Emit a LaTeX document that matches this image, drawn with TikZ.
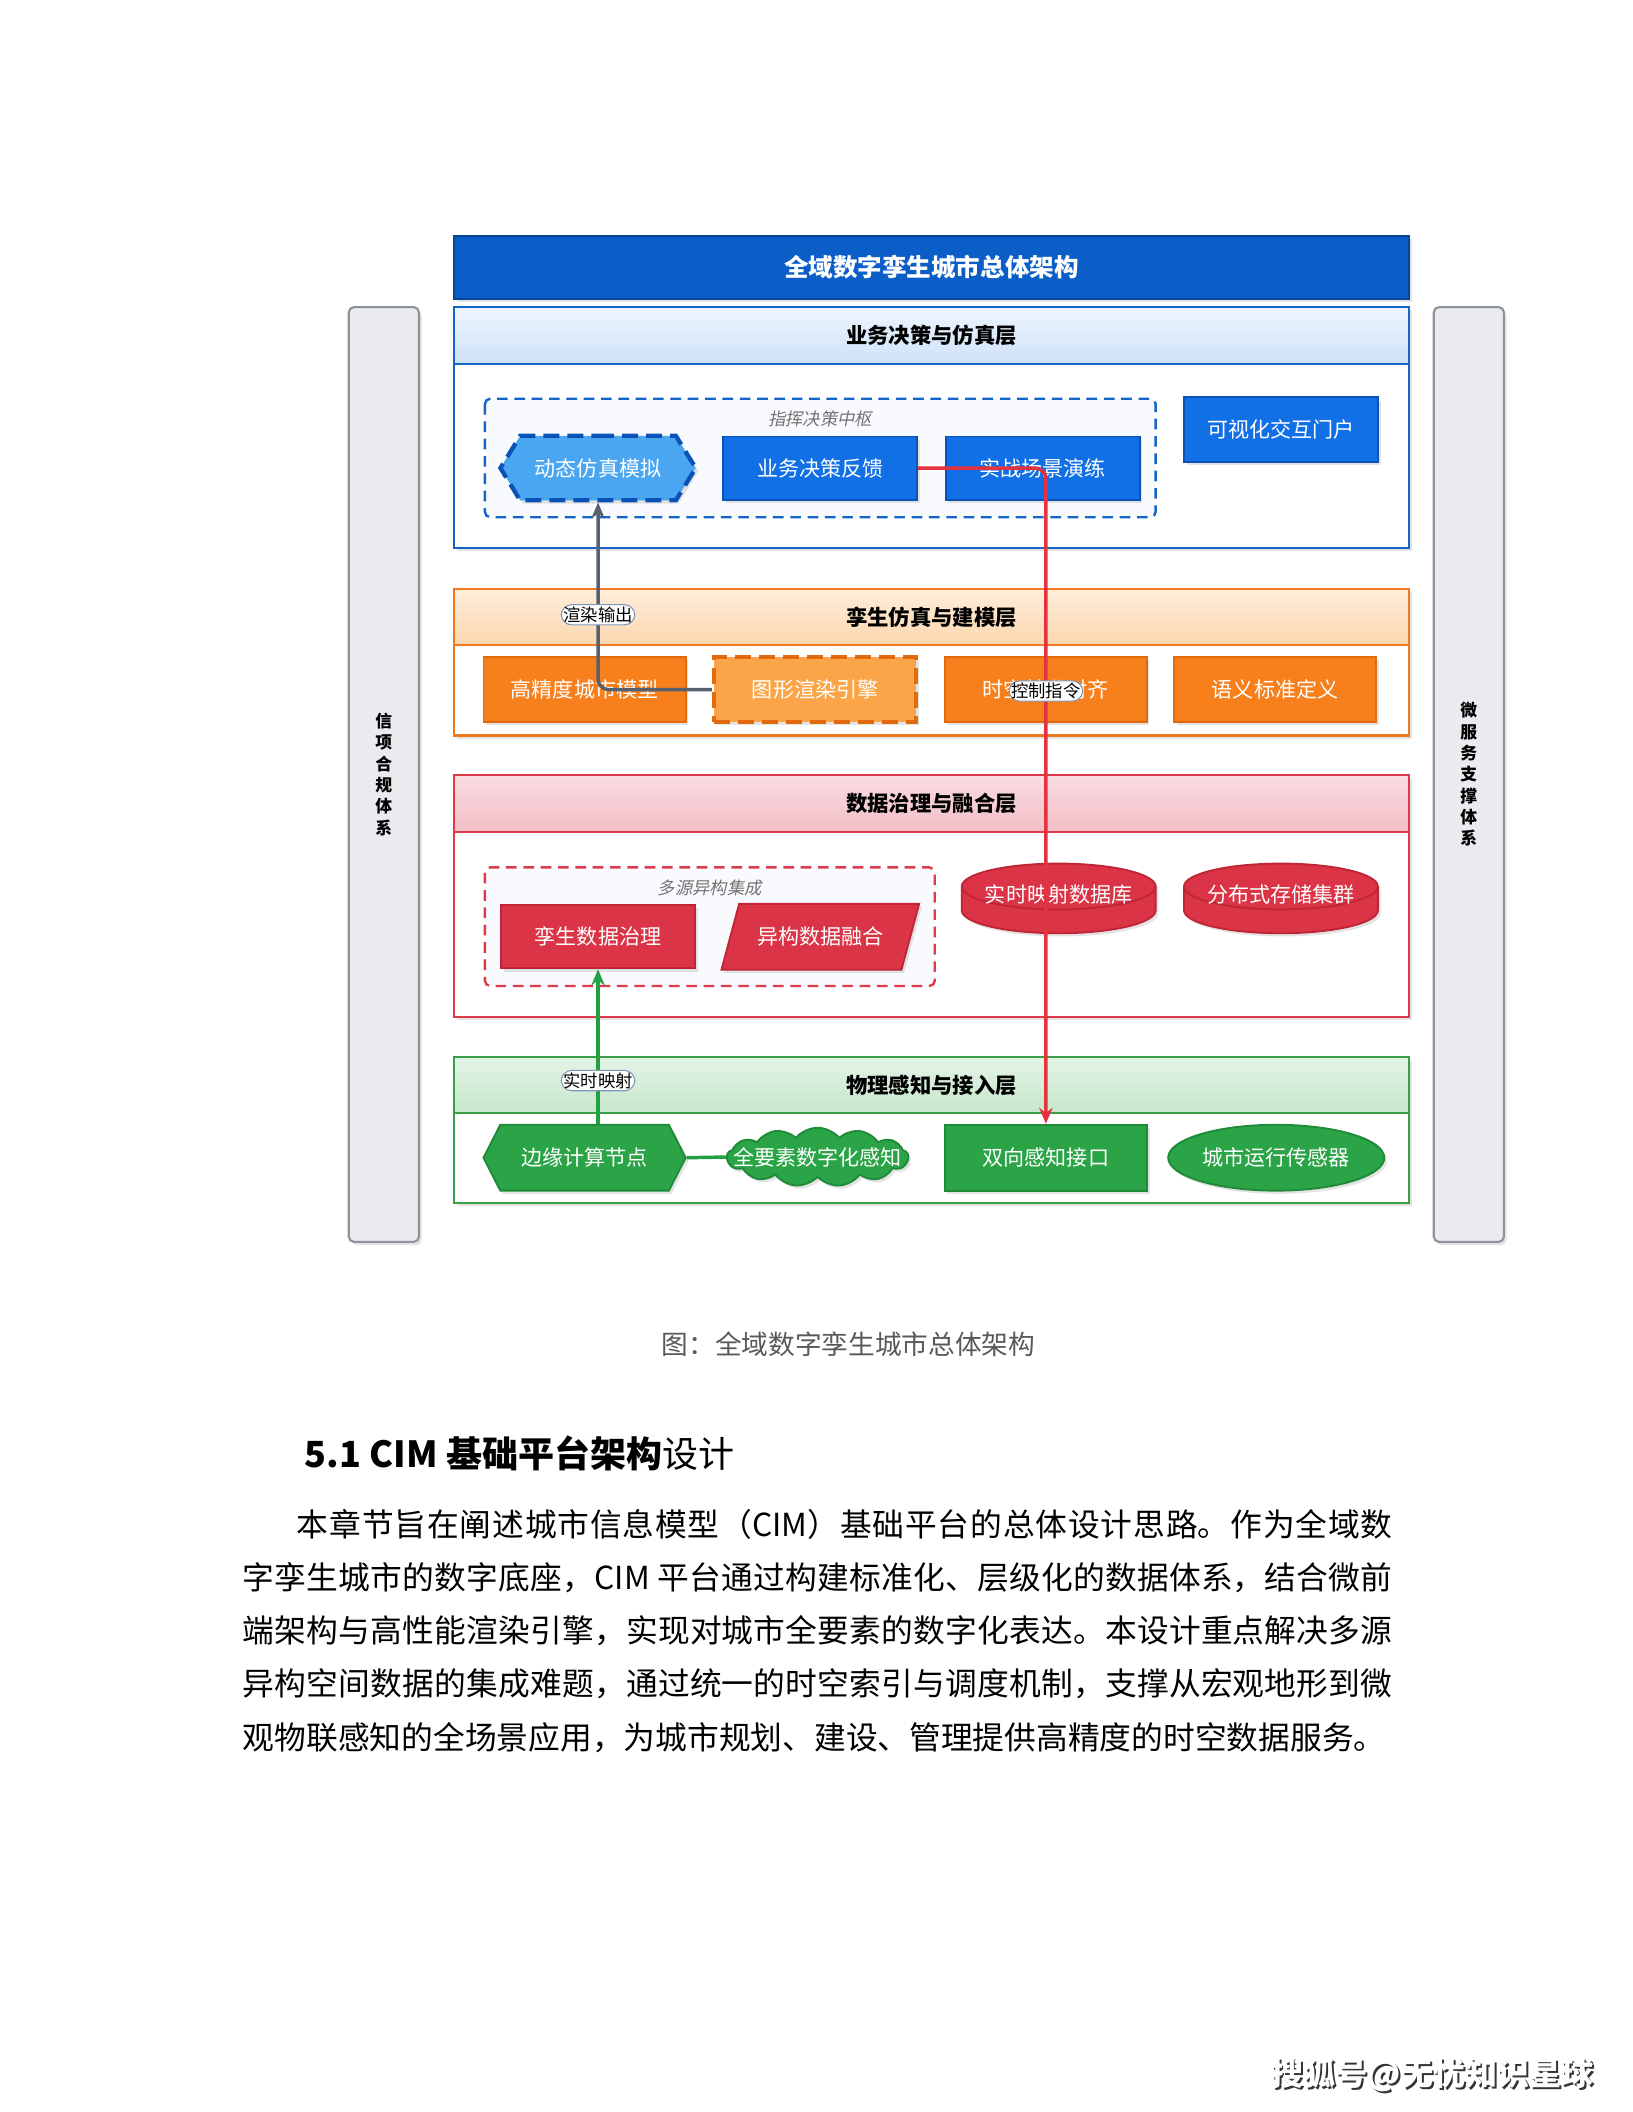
\documentclass[tikz,border=0pt]{standalone}
\usepackage{fontspec}
\setmainfont{Noto Sans CJK SC}
\newfontfamily\slantcjk{Noto Sans CJK SC}[FakeSlant=0.2]
\usetikzlibrary{shapes.geometric,shapes.symbols,arrows.meta,positioning,shadows}
\XeTeXlinebreaklocale "zh"
\XeTeXlinebreakskip=0pt plus 1pt

\definecolor{titleblue}{HTML}{0B5EC7}
\definecolor{l1line}{HTML}{1565C8}
\definecolor{l1top}{HTML}{EEF5FE}
\definecolor{l1bot}{HTML}{CFE1F8}
\definecolor{l2line}{HTML}{F0781E}
\definecolor{l2top}{HTML}{FFEEDB}
\definecolor{l2bot}{HTML}{FBD6AE}
\definecolor{l3line}{HTML}{DD3A4A}
\definecolor{l3top}{HTML}{FADDE2}
\definecolor{l3bot}{HTML}{F2BEC6}
\definecolor{l4line}{HTML}{3AA048}
\definecolor{l4top}{HTML}{E4F4E6}
\definecolor{l4bot}{HTML}{C6E7CB}
\definecolor{nblue}{HTML}{1170E6}
\definecolor{nblueline}{HTML}{0B52B8}
\definecolor{nlblue}{HTML}{4AA6F0}
\definecolor{norange}{HTML}{F7801C}
\definecolor{norangeline}{HTML}{E2690E}
\definecolor{nlorange}{HTML}{FBA448}
\definecolor{nred}{HTML}{DA3446}
\definecolor{nredline}{HTML}{C02535}
\definecolor{ngreen}{HTML}{2AA446}
\definecolor{ngreenline}{HTML}{1F8A37}
\definecolor{groupbg}{HTML}{F8FAFD}
\definecolor{sidefill}{HTML}{E9EBEE}
\definecolor{sidegray}{HTML}{8C939B}
\definecolor{linegray}{HTML}{56606E}
\definecolor{linered}{HTML}{E5323F}
\definecolor{linegreen}{HTML}{22A043}
\definecolor{lblframe}{HTML}{8096B8}

\begin{document}
\begin{tikzpicture}[x=0.505pt,y=-0.505pt,node distance=10pt,
  every node/.style={font=\fontsize{7.9}{9}\selectfont,inner sep=1pt},
  sh/.style={drop shadow={opacity=0.22,shadow xshift=1pt,shadow yshift=-1.2pt}},
  box/.style={draw,sh,text=white,line width=0.7pt,minimum width=72.7pt,minimum height=23.7pt},
  wbox/.style={box,minimum width=75.8pt,minimum height=24.4pt},
  bluebox/.style={box,fill=nblue,draw=nblueline},
  orangebox/.style={wbox,fill=norange,draw=norangeline},
  redbox/.style={box,fill=nred,draw=nredline},
  greenbox/.style={wbox,fill=ngreen,draw=ngreenline},
  hexa/.style={signal,signal to=west and east},
  drum/.style={redbox,cylinder,shape border rotate=90,aspect=0.3,anchor=shape center,
    minimum width=72.7pt,minimum height=14pt},
  layerbody/.style={fill=white,line width=0.8pt,sh},
  layerhead/.style={draw,line width=0.8pt,minimum width=358pt,minimum height=21.2pt,font=\fontsize{8}{9}\selectfont\bfseries},
  group/.style={dash pattern=on 4pt off 2.5pt,line width=0.9pt,fill=groupbg,rounded corners=2pt},
  grouplabel/.style={text=black!55,font=\fontsize{6.5}{8}\selectfont\slantcjk},
  sidebar/.style={draw=sidegray,fill=sidefill,line width=0.8pt,rounded corners=2pt,sh,
    minimum width=26.3pt,minimum height=350.5pt,align=center,font=\fontsize{6.3}{8}\selectfont\bfseries},
  lbl/.style={draw=lblframe,fill=white,text=black,inner sep=0.8pt,line width=0.4pt,font=\fontsize{6.5}{7}\selectfont},
  conn/.style={line width=1.3pt,rounded corners=4pt,-{Stealth[length=6pt,width=5pt]}}]
\useasboundingbox (0,0) rectangle (1212,1568);
\fill[white] (0,0) rectangle (1212,1568);

% side systems
\node[sidebar] (compl) at (285,575) {信\\项\\合\\规\\体\\系};
\node[sidebar] (micro) at (1090.5,575) {微\\服\\务\\支\\撑\\体\\系};

% title
\node[draw=titleblue!75!black,fill=titleblue,sh,line width=0.8pt,minimum width=358pt,minimum height=23.7pt,
  text=white,font=\fontsize{9.2}{10}\selectfont\bfseries] (top) at (691.5,198.5) {全域数字孪生城市总体架构};

% layer 1
\draw[layerbody,draw=l1line] (337,228) rectangle (1046,407);
\node[layerhead,draw=l1line,top color=l1top,bottom color=l1bot] (h1) at (691.5,249) {业务决策与仿真层};
\draw[group,draw=l1line] (360,296) rectangle (858,384);
\node[grouplabel] (g1) at (609,311) {指挥决策中枢};
\node[box,hexa,signal pointer angle=117,fill=nlblue,draw=nblueline,line width=1.6pt,
  dash pattern=on 6pt off 3pt,minimum width=73.2pt,minimum height=24.2pt] (dyn) at (444,347.5) {动态仿真模拟};
\node[bluebox] (fb) at (609,347.5) {业务决策反馈};
\node[bluebox,right=of fb] (drill) {实战场景演练};
\node[bluebox,minimum height=24.2pt] (portal) at (951,319) {可视化交互门户};

% layer 2
\draw[layerbody,draw=l2line] (337,437) rectangle (1046,546);
\node[layerhead,draw=l2line,top color=l2top,bottom color=l2bot] (h2) at (691.5,458) {孪生仿真与建模层};
\node[orangebox] (gao) at (434,512) {高精度城市模型};
\node[orangebox,right=9.5pt of gao,fill=nlorange,line width=1.6pt,dash pattern=on 6pt off 3pt] (gfx) {图形渲染引擎};
\node[orangebox,right=9.5pt of gfx] (stb) {时空基准对齐};
\node[orangebox,right=9.5pt of stb] (sem) {语义标准定义};

% layer 3
\draw[layerbody,draw=l3line] (337,576) rectangle (1046,755);
\node[layerhead,draw=l3line,top color=l3top,bottom color=l3bot] (h3) at (691.5,596.5) {数据治理与融合层};
\draw[group,draw=l3line] (360,644) rectangle (694,732);
\node[grouplabel] (g3) at (527,659) {多源异构集成};
\node[redbox] (twin) at (444,695.5) {孪生数据治理};
\node[redbox,trapezium,trapezium left angle=60,trapezium right angle=120,trapezium stretches=true,
  minimum width=74.2pt,minimum height=24.7pt] (fuse) at (609,695.5) {异构数据融合};
\node[drum] (rtdb) at (786,667) {\raisebox{4pt}[0pt][0pt]{实时映射数据库}};
\node[drum] (dist) at (951,667) {\raisebox{4pt}[0pt][0pt]{分布式存储集群}};

% layer 4
\draw[layerbody,draw=l4line] (337,785) rectangle (1046,893);
\node[layerhead,draw=l4line,top color=l4top,bottom color=l4bot] (h4) at (691.5,805.5) {物理感知与接入层};
\node[greenbox,hexa,signal pointer angle=126,minimum width=75.8pt,minimum height=24.7pt] (edgen) at (434,859.5) {边缘计算节点};
\node[greenbox,cloud,cloud puffs=13,cloud puff arc=100,cloud ignores aspect,minimum width=68pt,minimum height=22pt] (sense) at (607,859) {\makebox[0pt]{全要素数字化感知}};
\node[greenbox,minimum height=24.7pt] (bidir) at (776.5,859.5) {双向感知接口};
\node[greenbox,ellipse,minimum height=24.7pt] (sensor) at (947.5,859.5) {城市运行传感器};

% flows
\draw[conn,draw=linegray] (gfx.west) -| node[lbl,pos=0.7]{渲染输出} (dyn.south);
\draw[conn,draw=linered] (fb.east) -| node[lbl,pos=0.67]{控制指令} (bidir.north);
\draw[conn,draw=linegreen] (twin.south |- edgen.north) -- node[lbl,pos=0.28]{实时映射} (twin.south);
\draw[line width=1.3pt,draw=linegreen] (edgen.east) -- (sense.west);

% page text
\node[text=black!65,font=\fontsize{10}{12}\selectfont] (cap) at (630,998) {图：全域数字孪生城市总体架构};
\node[anchor=west,font=\fontsize{13.5}{16}\selectfont] (sec) at (224,1079) {\textbf{5.1 CIM 基础平台架构}设计};
\node[anchor=north west,inner sep=0pt,text width=431pt,align=justify,font=\fontsize{11.9}{19.95}\selectfont] (para) at (180,1120)
  {\hspace*{1.7em}本章节旨在阐述城市信息模型（CIM）基础平台的总体设计思路。作为全域数\linebreak
  字孪生城市的数字底座，CIM 平台通过构建标准化、层级化的数据体系，结合微前\linebreak
  端架构与高性能渲染引擎，实现对城市全要素的数字化表达。本设计重点解决多源\linebreak
  异构空间数据的集成难题，通过统一的时空索引与调度机制，支撑从宏观地形到微\linebreak
  观物联感知的全场景应用，为城市规划、建设、管理提供高精度的时空数据服务。};
\node[text=black!80,font=\fontsize{12}{14}\selectfont\bfseries] (sohu) at (1065,1542) {搜狐号@无忧知识星球};
\node[text=white,font=\fontsize{12}{14}\selectfont\bfseries] (sohutop) at ([xshift=-0.7pt,yshift=0.7pt]sohu.center) {搜狐号@无忧知识星球};
\end{tikzpicture}
\end{document}
